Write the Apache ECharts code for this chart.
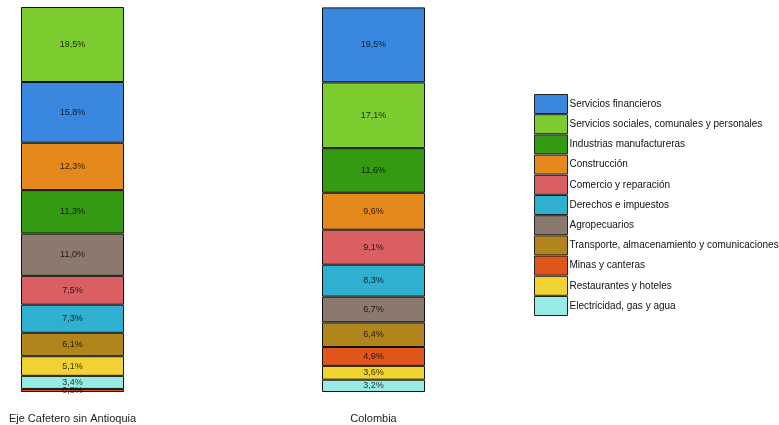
<!DOCTYPE html>
<html>
<head>
<meta charset="utf-8">
<script src="https://cdn.jsdelivr.net/npm/echarts@6/dist/echarts.min.js"></script>
<style>
html,body{margin:0;padding:0;background:#fff;}
#main{width:779px;height:425px;}
</style>
</head>
<body>
<div id="main"></div>
<script>
const categories = ['Eje Cafetero sin Antioquia', 'Colombia'];
const sectors = [
  'Servicios financieros',
  'Servicios sociales, comunales y personales',
  'Industrias manufactureras',
  'Construcción',
  'Comercio y reparación',
  'Derechos e impuestos',
  'Agropecuarios',
  'Transporte, almacenamiento y comunicaciones',
  'Minas y canteras',
  'Restaurantes y hoteles',
  'Electricidad, gas y agua'
];
const ejeCafetero = [15.8, 19.5, 11.3, 12.3, 7.5, 7.3, 11.0, 6.1, 0.8, 5.1, 3.4];
const colombia    = [19.5, 17.1, 11.6, 9.6, 9.1, 8.3, 6.7, 6.4, 4.9, 3.6, 3.2];

const sectorColors = ['#3a87e0', '#7ccc30', '#339a12', '#e5891c', '#d95f62', '#30b0d0',
  '#8a796c', '#b0861c', '#e0561c', '#f0d332', '#96ece2'];

const barValues = [ejeCafetero, colombia];
const gridLefts = [21, 322];

const grids = [], xAxes = [], yAxes = [], series = [];
barValues.forEach(function (vals, ci) {
  grids.push({ left: gridLefts[ci], width: 103, top: 7, bottom: 33 });
  xAxes.push({
    type: 'category',
    gridIndex: ci,
    data: [categories[ci]],
    axisLine: { show: false },
    axisTick: { show: false },
    axisLabel: { margin: 21, fontFamily: 'Liberation Sans', fontSize: 11, color: '#222' }
  });
  yAxes.push({ type: 'value', gridIndex: ci, min: 0, max: 100.1, show: false, splitLine: { show: false } });
  const idx = vals.map(function (v, i) { return i; });
  idx.sort(function (a, b) { return vals[a] - vals[b]; }); // smallest at bottom
  idx.forEach(function (si) {
    series.push({
      name: sectors[si],
      type: 'bar',
      stack: 'total' + ci,
      xAxisIndex: ci,
      yAxisIndex: ci,
      barWidth: '100%',
      data: [vals[si]],
      itemStyle: { color: sectorColors[si], borderColor: '#111', borderWidth: 1 },
      label: {
        show: true,
        position: 'inside',
        fontFamily: 'Liberation Sans',
        fontSize: 9,
        color: 'rgba(0,0,0,0.8)',
        formatter: function (p) { return p.value.toFixed(1).replace('.', ',') + '%'; }
      },
      emphasis: { disabled: true },
      animation: false
    });
  });
});

const chart = echarts.init(document.getElementById('main'), null, { renderer: 'canvas' });
chart.setOption({
  animation: false,
  backgroundColor: '#fff',
  grid: grids,
  legend: {
    data: sectors,
    orient: 'vertical',
    left: 534,
    top: 94,
    padding: 0,
    icon: 'rect',
    itemWidth: 33,
    itemHeight: 19,
    itemGap: 0.2,
    selectedMode: false,
    itemStyle: { borderColor: '#222', borderWidth: 1 },
    textStyle: { fontFamily: 'Liberation Sans', fontSize: 10, color: '#111', padding: [0, 0, 0, -3] }
  },
  xAxis: xAxes,
  yAxis: yAxes,
  series: series
});
</script>
</body>
</html>
